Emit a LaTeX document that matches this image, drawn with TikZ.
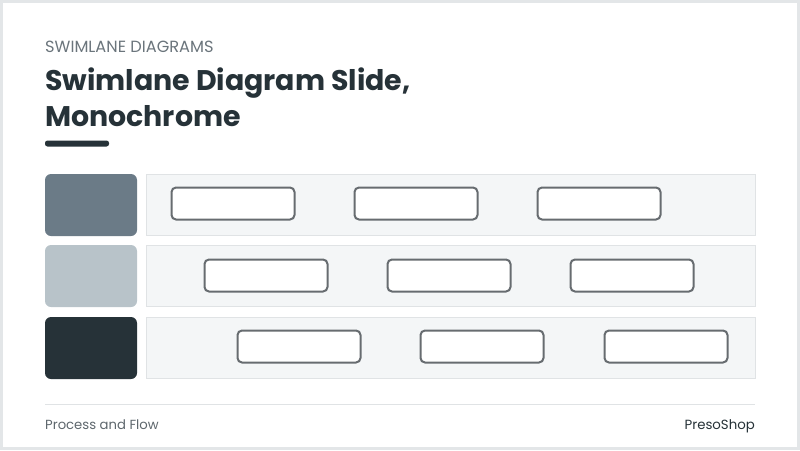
\documentclass[tikz,border=0pt]{standalone}
\usepackage{fontspec}
\setmainfont{Poppins}
\definecolor{frame}{HTML}{E3E6E8}
\definecolor{kicker}{HTML}{6B757C}
\definecolor{ink}{HTML}{263238}
\definecolor{sq1}{HTML}{6B7B87}
\definecolor{sq2}{HTML}{B8C3C9}
\definecolor{sq3}{HTML}{263238}
\definecolor{lanefill}{HTML}{F4F6F7}
\definecolor{laneline}{HTML}{E0E3E5}
\definecolor{boxline}{HTML}{676C70}
\definecolor{rule}{HTML}{E0E3E5}
\definecolor{foot}{HTML}{5E676D}
\tikzset{
  lanelabel/.style={rounded corners=6pt},
  lanebox/.style={fill=lanefill, draw=laneline, line width=1pt},
  stepbox/.style={draw=boxline, fill=white, line width=2pt, rounded corners=4.5pt, minimum width=123pt, minimum height=32pt, inner sep=0pt},
}
\begin{document}
\begin{tikzpicture}[x=1pt,y=-1pt]
\useasboundingbox (0,0) rectangle (800,450);
\fill[frame] (0,0) rectangle (800,450);
\fill[white] (3,3) rectangle (797,447);
% header
\node[anchor=base west, inner sep=0pt, text=kicker, font=\fontsize{16.2}{19}\selectfont] (kick) at (45,52) {SWIMLANE DIAGRAMS};
\node[anchor=base west, inner sep=0pt, text=ink, font=\fontsize{28.4}{35}\selectfont\bfseries] (t1) at (45,90.5) {Swimlane Diagram Slide,};
\node[anchor=base west, inner sep=0pt, text=ink, font=\fontsize{28.4}{35}\selectfont\bfseries] (t2) at (45,126.5) {Monochrome};
\fill[ink, rounded corners=2.5pt] (45,140.5) rectangle (109,146.5);
% lanes
\fill[sq1, lanelabel] (45,174) rectangle (137,236);
\fill[sq2, lanelabel] (45,245) rectangle (137,307);
\fill[sq3, lanelabel] (45,317) rectangle (137,379);
\draw[lanebox] (146,174.5) rectangle (755,235.5);
\draw[lanebox] (146,245.5) rectangle (755,306.5);
\draw[lanebox] (146,317.5) rectangle (755,378.5);
% steps
\node[stepbox] (a1) at (233,203.5) {};
\node[stepbox] (a2) at (416,203.5) {};
\node[stepbox] (a3) at (599,203.5) {};
\node[stepbox] (b1) at (266,275.5) {};
\node[stepbox] (b2) at (449,275.5) {};
\node[stepbox] (b3) at (632,275.5) {};
\node[stepbox] (c1) at (299,346.5) {};
\node[stepbox] (c2) at (482,346.5) {};
\node[stepbox] (c3) at (666,346.5) {};
% footer
\draw[rule, line width=1.2pt] (45,404.5) -- (755,404.5);
\node[anchor=base west, inner sep=0pt, text=foot, font=\fontsize{13.2}{15}\selectfont] (f1) at (45,429) {Process and Flow};
\node[anchor=base east, inner sep=0pt, text=ink, font=\fontsize{13.3}{15}\selectfont] (f2) at (755,429) {PresoShop};
\end{tikzpicture}
\end{document}
